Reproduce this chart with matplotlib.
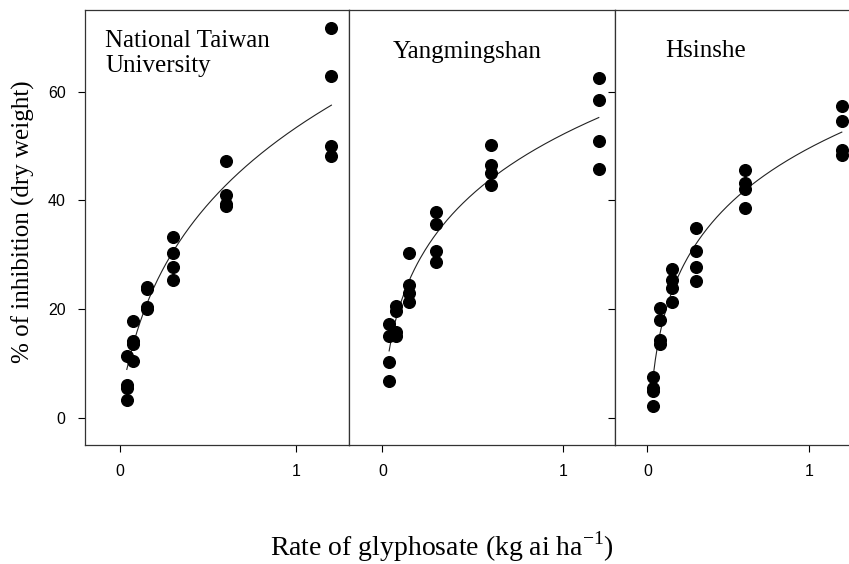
import numpy as np
import matplotlib
matplotlib.use("Agg")
import matplotlib.pyplot as plt

plt.rcParams['mathtext.fontset'] = 'custom'
plt.rcParams['mathtext.rm'] = 'Liberation Serif'

# Doses (kg ai/ha) and the four replicate values per dose
doses = [0.0375, 0.075, 0.15, 0.3, 0.6, 1.2]

ntu_y = [[11.4, 6.0, 5.4, 3.2],
         [17.8, 14.2, 13.6, 10.4],
         [24.0, 23.6, 20.3, 20.0],
         [33.2, 30.4, 27.7, 25.4],
         [47.3, 41.0, 39.4, 39.0],
         [71.6, 62.8, 49.9, 48.1]]

ymd_y = [[17.3, 15.1, 10.2, 6.8],
         [20.6, 19.7, 15.7, 15.0],
         [30.3, 24.5, 22.9, 21.3],
         [37.8, 35.6, 30.7, 28.6],
         [50.2, 46.5, 45.1, 42.9],
         [62.5, 58.5, 51.0, 45.8]]

hsi_y = [[7.5, 5.5, 5.0, 2.2],
         [20.2, 17.9, 14.4, 13.6],
         [27.4, 25.4, 23.9, 21.3],
         [35.0, 30.6, 27.8, 25.1],
         [45.6, 43.2, 42.0, 38.5],
         [57.4, 54.6, 49.2, 48.4]]

# fitted curve heights at each dose
ntu_fit = [8.5, 14.4, 20.8, 30.0, 42.9, 57.6]
ymd_fit = [12.0, 19.2, 24.2, 34.0, 44.4, 55.0]
hsi_fit = [8.3, 14.6, 23.8, 30.8, 43.0, 52.1]

sites = ["National Taiwan\nUniversity", "Yangmingshan", "Hsinshe"]
yticks = [0, 20, 40, 60]
xticks = [0, 1]

W, H = 849, 564
fig = plt.figure(figsize=(W / 100, H / 100), dpi=100)

# panel boxes in pixels: left, right, xlim
boxes = [(85, 349, (-0.2, 1.3)), (349, 615, (-0.185, 1.29)), (615, 858, (-0.2, 1.3))]
top_px, bot_px = 10, 445
title_pos = [(0.076, 0.953), (0.165, 0.928), (0.206, 0.932)]

serif = 'Liberation Serif'
sans = 'Liberation Sans'

for i, (vals, fit) in enumerate([(ntu_y, ntu_fit), (ymd_y, ymd_fit), (hsi_y, hsi_fit)]):
    l, r, xl = boxes[i]
    ax = fig.add_axes([l / W, (H - bot_px) / H, (r - l) / W, (bot_px - top_px) / H])
    xs = np.repeat(doses, 4)
    ys = np.array(vals).ravel()
    ax.plot(xs, ys, 'o', color='black', ms=8.4, zorder=3)

    # smooth the fitted line through the read heights
    c = np.polyfit(np.log(doses), fit, 2)
    xx = np.linspace(doses[0], doses[-1], 200)
    ax.plot(xx, np.polyval(c, np.log(xx)), color='#222222', lw=0.8)

    ax.set_xlim(*xl)
    ax.set_ylim(-5, 75)
    ax.set_xticks(xticks)
    ax.set_xticklabels(['0', '1'], fontfamily=sans, fontsize=11.5)
    ax.tick_params(axis='x', direction='out', length=5, width=0.8, pad=9)
    if i == 0:
        ax.set_yticks(yticks)
        ax.set_yticklabels([str(t) for t in yticks], fontfamily=sans, fontsize=11.5)
        ax.tick_params(axis='y', direction='out', length=5, width=0.8, pad=9)
    elif i == 2:
        ax.set_yticks(yticks)
        ax.set_yticklabels([])
        ax.tick_params(axis='y', direction='out', length=5, width=0.8)
    else:
        ax.set_yticks([])
    for s in ax.spines.values():
        s.set_linewidth(0.9)
        s.set_color('#333333')
    ax.text(title_pos[i][0], title_pos[i][1], sites[i], transform=ax.transAxes,
            ha='left', va='top', fontfamily=serif, fontsize=18, linespacing=1.15)

fig.text(23 / W, 1 - 222 / H, "% of inhibition (dry weight)", rotation=90,
         ha='center', va='center', fontfamily=serif, fontsize=18)
fig.text(442 / W, 1 - 547 / H, "Rate of glyphosate (kg ai ha$^{\\mathregular{-1}}$)",
         ha='center', va='center', fontfamily=serif, fontsize=20)

fig.savefig("out.png", dpi=100)
